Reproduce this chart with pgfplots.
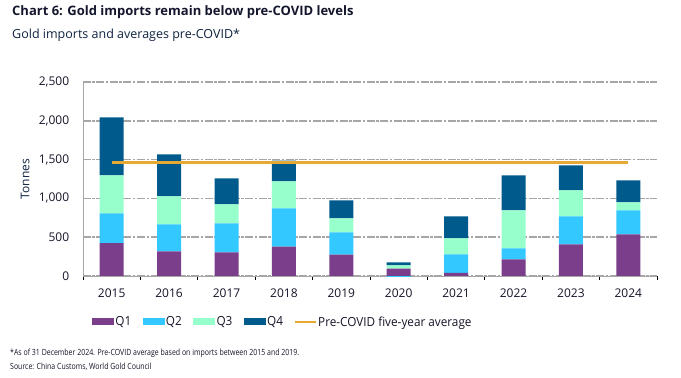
\documentclass[border=0pt]{standalone}
\usepackage{fontspec}
\setmainfont{Open Sans}
\newfontfamily\condfont[FakeStretch=0.82]{Open Sans}
\newfontfamily\legfont[FakeStretch=0.94]{Open Sans}
\usepackage{pgfplots}
\pgfplotsset{compat=1.18}
\definecolor{qone}{RGB}{122,62,138}
\definecolor{qtwo}{RGB}{51,200,255}
\definecolor{qthree}{RGB}{150,255,204}
\definecolor{qfour}{RGB}{0,90,140}
\definecolor{avgcol}{RGB}{230,169,51}
\definecolor{gridcol}{RGB}{166,166,166}
\definecolor{titlecol}{RGB}{20,22,45}
\definecolor{subcol}{RGB}{15,35,65}
\definecolor{ticklab}{RGB}{20,20,40}
\pgfplotsset{
  barleg/.style={legend image code/.code={\fill[##1] (0pt,-3.5pt) rectangle (22pt,3.5pt);}},
  common/.style={at={(83pt,102pt)}, anchor=south west, scale only axis, width=574pt, height=194pt,
    xmin=-0.5, xmax=9.5, ymin=0, ymax=2500}
}
\begin{document}
\begin{tikzpicture}
\useasboundingbox (0pt,0pt) rectangle (681pt,378pt);
\node[anchor=west, inner sep=0, font=\bfseries\fontsize{13}{15}\selectfont, text=titlecol] at (12pt,365.5pt) {Chart 6: Gold imports remain below pre-COVID levels};
\node[anchor=west, inner sep=0, font=\fontsize{12.5}{15}\selectfont, text=subcol] at (12pt,343pt) {Gold imports and averages pre-COVID*};
\begin{axis}[common,
  ybar stacked, bar width=24pt,
  ytick={0,500,1000,1500,2000,2500},
  yticklabels={0,500,{1,000},{1,500},{2,000},{2,500}},
  ymajorgrids,
  grid style={color=gridcol, line width=1.5pt, dash pattern=on 8pt off 1.5pt on 2.5pt off 1.5pt},
  axis x line*=bottom, axis y line*=left,
  axis line style={color=gridcol, line width=0.8pt},
  xtick={0,...,9},
  xticklabels={2015,2016,2017,2018,2019,2020,2021,2022,2023,2024},
  minor xtick={-0.5,0.5,...,9.5},
  major x tick style={draw=none},
  minor x tick style={draw=black, line width=0.8pt},
  minor tick length=4pt,
  tick align=outside,
  ytick style={draw=none},
  ticklabel style={font=\fontsize{12}{14}\selectfont, text=ticklab},
  xticklabel style={yshift=-5pt},
  yticklabel style={xshift=-6pt},
  ylabel={Tonnes},
  ylabel style={at={(axis description cs:-0.101,0.5)}, anchor=center, font=\fontsize{12}{14}\selectfont, text=subcol},
]
\addplot[fill=qone, draw=none] coordinates {(0,425) (1,318) (2,305) (3,378) (4,275) (5,95) (6,39) (7,215) (8,408) (9,537)};
\addplot[fill=qtwo, draw=none] coordinates {(0,383) (1,348) (2,374) (3,494) (4,288) (5,0) (6,240) (7,142) (8,361) (9,309)};
\addplot[fill=qthree, draw=none] coordinates {(0,489) (1,361) (2,245) (3,348) (4,180) (5,43) (6,206) (7,489) (8,335) (9,103)};
\addplot[fill=qfour, draw=none] coordinates {(0,748) (1,541) (2,335) (3,266) (4,232) (5,39) (6,284) (7,451) (8,322) (9,284)};
\end{axis}
\begin{axis}[common, hide axis, clip=false,
  legend columns=5,
  legend style={at={(axis description cs:0.0157,-0.237)}, anchor=west, draw=none, fill=none,
    inner sep=0pt, font=\legfont\fontsize{12.5}{14}\selectfont, text=ticklab,
    nodes={inner sep=1.2pt},
    /tikz/every even column/.append style={column sep=10.3pt}},
  legend cell align=left,
]
\addplot[ybar, bar width=24pt, bar shift=0pt, fill=qtwo, draw=none, forget plot] coordinates {(5,-15)};
\addlegendimage{barleg, fill=qone, draw=none}
\addlegendimage{barleg, fill=qtwo, draw=none}
\addlegendimage{barleg, fill=qthree, draw=none}
\addlegendimage{barleg, fill=qfour, draw=none}
\addplot[avgcol, line width=2.8pt, legend image code/.code={\draw[avgcol, line width=1.5pt] (0pt,0pt) -- (21pt,0pt);}] coordinates {(0,1467) (9,1467)};
\legend{Q1,Q2,Q3,Q4,Pre-COVID five-year average}
\end{axis}
\node[anchor=west, inner sep=0, font=\condfont\fontsize{8.5}{10}\selectfont, text=ticklab] at (10pt,25pt) {*As of 31 December 2024. Pre-COVID average based on imports between 2015 and 2019.};
\node[anchor=west, inner sep=0, font=\condfont\fontsize{8.5}{10}\selectfont, text=ticklab] at (10pt,11pt) {Source: China Customs, World Gold Council};
\end{tikzpicture}
\end{document}
